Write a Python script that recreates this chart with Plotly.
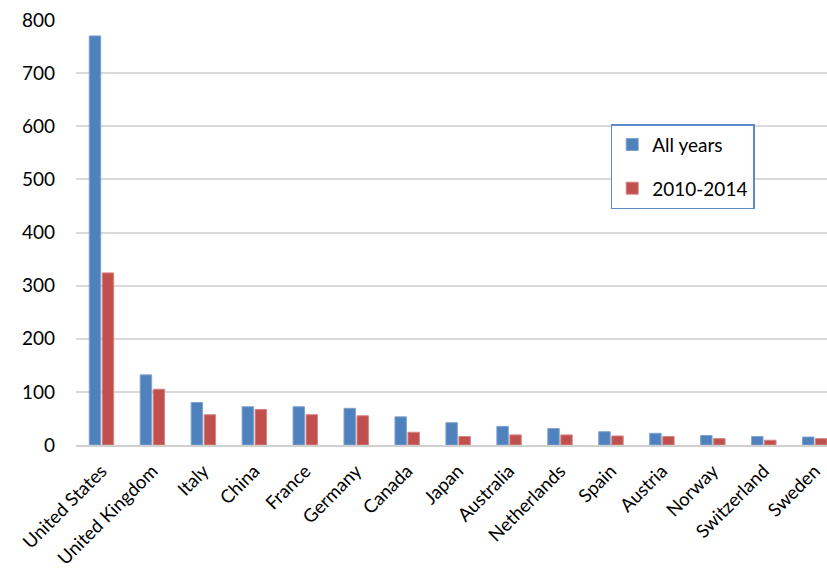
import plotly.graph_objects as go

countries = ["United States", "United Kingdom", "Italy", "China", "France", "Germany",
             "Canada", "Japan", "Australia", "Netherlands", "Spain", "Austria",
             "Norway", "Switzerland", "Sweden"]
all_years = [770, 132, 80, 72, 72, 69, 53, 42, 35, 31, 25, 22, 18, 16, 15]
y2010_2014 = [324, 105, 57, 67, 57, 55, 24, 16, 19, 19, 17, 16, 12, 9, 12]
y_ticks = [0, 100, 200, 300, 400, 500, 600, 700, 800]

FONT = "Lato"
W, H = 827, 573
L, R, T, B = 76.3, 0, 19.5, 127.5

fig = go.Figure()
fig.add_trace(go.Bar(x=countries, y=all_years, name="All years", legendgroup="a",
                     marker=dict(color="#4F81BD", line=dict(color="#7FA2D0", width=1))))
fig.add_trace(go.Bar(x=countries, y=y2010_2014, name="2010-2014", legendgroup="b",
                     marker=dict(color="#C0504D", line=dict(color="#D68583", width=1))))

fig.update_layout(
    width=W, height=H,
    margin=dict(l=L, r=R, t=T, b=B, pad=0, autoexpand=False),
    paper_bgcolor="white", plot_bgcolor="white",
    font=dict(family=FONT, size=19, color="#000000"),
    barmode="group", bargap=0.49, bargroupgap=0.12,
    showlegend=True,
    legend=dict(x=0.712, y=0.755, xanchor="left", yanchor="top",
                bordercolor="#5B8BC9", borderwidth=1.5, bgcolor="white",
                font=dict(family=FONT, size=19), tracegroupgap=16,
                itemclick=False),
)
fig.update_xaxes(range=[-0.5, 14.24], tickangle=-45, showgrid=False, automargin=False,
                 showline=True, linecolor="#D0D0D0", linewidth=2,
                 ticks="", ticklabelstandoff=6, tickfont=dict(family=FONT, size=18.5))
fig.update_yaxes(range=[0, 800], tickvals=y_ticks, showgrid=True, automargin=False,
                 gridcolor="#D9D9D9", gridwidth=1.5, zeroline=False,
                 showline=False, ticks="", ticklabelstandoff=20,
                 tickfont=dict(family=FONT, size=19))

fig.write_html("out.html")
